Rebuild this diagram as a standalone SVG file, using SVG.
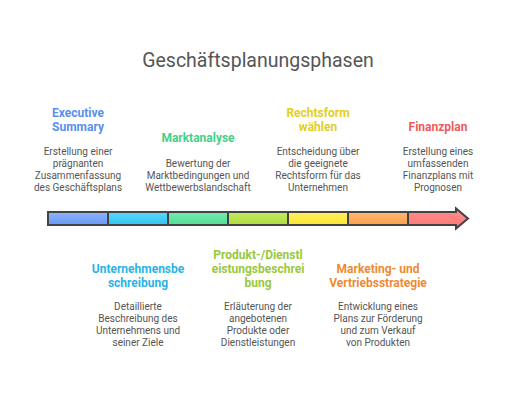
<svg xmlns="http://www.w3.org/2000/svg" width="516" height="402" viewBox="0 0 516 402">
<defs>
<linearGradient id="g1" x1="0" y1="0" x2="0" y2="1"><stop offset="0" stop-color="#8db3fc"/><stop offset="1" stop-color="#6a98f7"/></linearGradient>
<linearGradient id="g2" x1="0" y1="0" x2="0" y2="1"><stop offset="0" stop-color="#5ad8fb"/><stop offset="1" stop-color="#2fc5f4"/></linearGradient>
<linearGradient id="g3" x1="0" y1="0" x2="0" y2="1"><stop offset="0" stop-color="#74eab0"/><stop offset="1" stop-color="#52de96"/></linearGradient>
<linearGradient id="g4" x1="0" y1="0" x2="0" y2="1"><stop offset="0" stop-color="#c6ea5e"/><stop offset="1" stop-color="#aedc42"/></linearGradient>
<linearGradient id="g5" x1="0" y1="0" x2="0" y2="1"><stop offset="0" stop-color="#fff063"/><stop offset="1" stop-color="#fde52f"/></linearGradient>
<linearGradient id="g6" x1="0" y1="0" x2="0" y2="1"><stop offset="0" stop-color="#ffb873"/><stop offset="1" stop-color="#fca04a"/></linearGradient>
<linearGradient id="g7" x1="0" y1="0" x2="0" y2="1"><stop offset="0" stop-color="#ff8f8c"/><stop offset="1" stop-color="#fe7673"/></linearGradient>
</defs>
<style>
text{font-family:Roboto,"Liberation Sans",sans-serif;text-anchor:middle}
.t{font-size:19.5px;fill:#555}
.h{font-size:12px;font-weight:bold}
.d{font-size:10px;fill:#555}
.div{stroke:#434343;stroke-width:2}
</style>
<rect width="516" height="402" fill="#ffffff"/>
<text class="t" x="258" y="67">Geschäftsplanungsphasen</text>
<g id="connectors">
<rect x="48" y="212" width="60" height="13" fill="url(#g1)"/>
<rect x="108" y="212" width="60" height="13" fill="url(#g2)"/>
<rect x="168" y="212" width="60" height="13" fill="url(#g3)"/>
<rect x="228" y="212" width="60" height="13" fill="url(#g4)"/>
<rect x="288" y="212" width="60" height="13" fill="url(#g5)"/>
<rect x="348" y="212" width="60" height="13" fill="url(#g6)"/>
<path d="M408 212 H456 V208.5 L468 218.5 L456 228.5 V225 H408 Z" fill="url(#g7)"/>
<path class="div" d="M108 212V225M168 212V225M228 212V225M288 212V225M348 212V225M408 212V225"/>
<path d="M48 212 H456 V208.5 L468 218.5 L456 228.5 V225 H48 Z" fill="none" stroke="#434343" stroke-width="2" stroke-linejoin="miter"/>
</g>
<g id="executive-summary">
<text class="h" fill="#5a8ff0"><tspan x="78" y="116.5">Executive</tspan><tspan x="78" y="130.5">Summary</tspan></text>
<text class="d"><tspan x="78" y="154.5">Erstellung einer</tspan><tspan x="78" y="166.5">prägnanten</tspan><tspan x="78" y="178.5">Zusammenfassung</tspan><tspan x="78" y="190.5">des Geschäftsplans</tspan></text>
</g>
<g id="unternehmensbeschreibung">
<text class="h" fill="#2ab3e6"><tspan x="138" y="273">Unternehmensbe</tspan><tspan x="138" y="287">schreibung</tspan></text>
<text class="d"><tspan x="138" y="310">Detaillierte</tspan><tspan x="138" y="322">Beschreibung des</tspan><tspan x="138" y="334">Unternehmens und</tspan><tspan x="138" y="346">seiner Ziele</tspan></text>
</g>
<g id="marktanalyse">
<text class="h" fill="#45cf86"><tspan x="198" y="142">Marktanalyse</tspan></text>
<text class="d"><tspan x="198" y="166.5">Bewertung der</tspan><tspan x="198" y="178.5">Marktbedingungen und</tspan><tspan x="198" y="190.5">Wettbewerbslandschaft</tspan></text>
</g>
<g id="produkt">
<text class="h" fill="#98c93c"><tspan x="258" y="259">Produkt-/Dienstl</tspan><tspan x="258" y="273">eistungsbeschrei</tspan><tspan x="258" y="287">bung</tspan></text>
<text class="d"><tspan x="258" y="310">Erläuterung der</tspan><tspan x="258" y="322">angebotenen</tspan><tspan x="258" y="334">Produkte oder</tspan><tspan x="258" y="346">Dienstleistungen</tspan></text>
</g>
<g id="rechtsform">
<text class="h" fill="#e2cf1e"><tspan x="318" y="116.5">Rechtsform</tspan><tspan x="318" y="130.5">wählen</tspan></text>
<text class="d"><tspan x="318" y="154.5">Entscheidung über</tspan><tspan x="318" y="166.5">die geeignete</tspan><tspan x="318" y="178.5">Rechtsform für das</tspan><tspan x="318" y="190.5">Unternehmen</tspan></text>
</g>
<g id="marketing">
<text class="h" fill="#ee8a34"><tspan x="378" y="273">Marketing- und</tspan><tspan x="378" y="287">Vertriebsstrategie</tspan></text>
<text class="d"><tspan x="378" y="310">Entwicklung eines</tspan><tspan x="378" y="322">Plans zur Förderung</tspan><tspan x="378" y="334">und zum Verkauf</tspan><tspan x="378" y="346">von Produkten</tspan></text>
</g>
<g id="finanzplan">
<text class="h" fill="#ee5b5b"><tspan x="438" y="130.5">Finanzplan</tspan></text>
<text class="d"><tspan x="438" y="154.5">Erstellung eines</tspan><tspan x="438" y="166.5">umfassenden</tspan><tspan x="438" y="178.5">Finanzplans mit</tspan><tspan x="438" y="190.5">Prognosen</tspan></text>
</g>
</svg>
